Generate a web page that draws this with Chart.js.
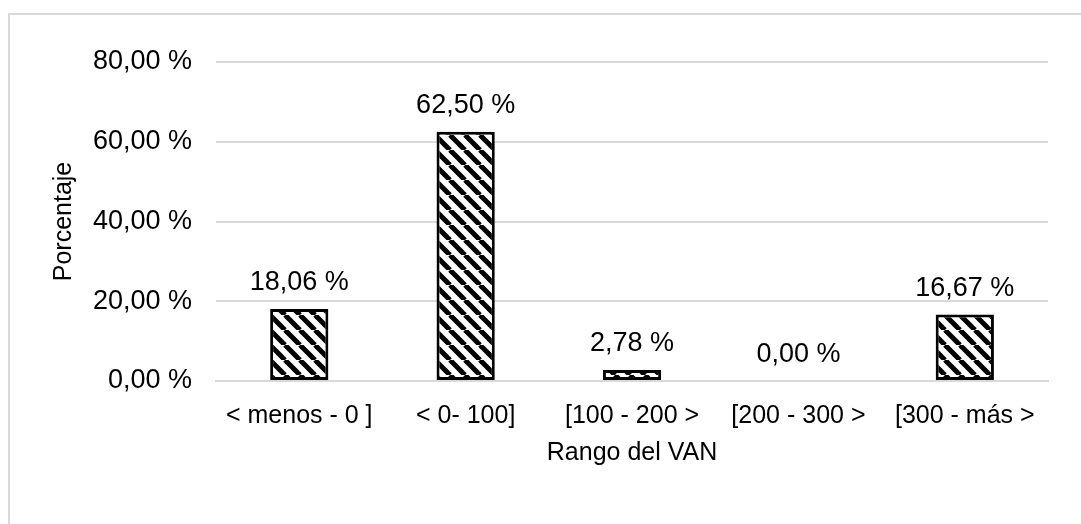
<!DOCTYPE html>
<html>
<head>
<meta charset="UTF-8">
<title>Rango del VAN</title>
<script src="https://cdn.jsdelivr.net/npm/chart.js"></script>
<style>
  html, body { margin: 0; padding: 0; background: #fff; }
  #wrap { position: relative; width: 1081px; height: 524px; }
</style>
</head>
<body>
<div id="wrap"><canvas id="grafico"></canvas></div>
<script>
// datos
const rangos = ['< menos - 0 ]', '< 0- 100]', '[100 - 200 >', '[200 - 300 >', '[300 - más >'];
const porcentajes = [18.06, 62.50, 2.78, 0.00, 16.67];
const ticksY = [0, 20, 40, 60, 80];

const fuente = "'Liberation Sans', Arial, sans-serif";

function formato(v) {
  return v.toFixed(2).replace('.', ',') + ' %';
}

// trama de rayas diagonales "\"
function trama() {
  const s = 15;
  const c = document.createElement('canvas');
  c.width = s; c.height = s;
  const g = c.getContext('2d');
  g.fillStyle = '#fff';
  g.fillRect(0, 0, s, s);
  g.strokeStyle = '#000';
  g.lineWidth = 5;
  for (let o = -s; o <= s; o += s) {
    g.beginPath();
    g.moveTo(o, 0);
    g.lineTo(o + s, s);
    g.stroke();
  }
  return g.createPattern(c, 'repeat');
}

// marco gris y etiquetas de valores
const extras = {
  id: 'extras',
  beforeDraw(chart) {
    const ctx = chart.ctx;
    ctx.save();
    ctx.strokeStyle = '#d9d9d9';
    ctx.lineWidth = 2;
    ctx.beginPath();
    ctx.moveTo(9, 524);
    ctx.lineTo(9, 14);
    ctx.lineTo(1081, 14);
    ctx.stroke();
    ctx.restore();
  },
  afterDatasetsDraw(chart) {
    const ctx = chart.ctx;
    const meta = chart.getDatasetMeta(0);
    ctx.save();
    ctx.font = '27px ' + fuente;
    ctx.fillStyle = '#000';
    ctx.textAlign = 'center';
    ctx.textBaseline = 'alphabetic';
    meta.data.forEach((bar, i) => {
      ctx.fillText(formato(porcentajes[i]), bar.x, bar.y - 19);
    });
    ctx.restore();
  }
};

const ctx = document.getElementById('grafico');
new Chart(ctx, {
  type: 'bar',
  data: {
    labels: rangos,
    datasets: [{
      data: porcentajes,
      backgroundColor: trama(),
      borderColor: '#000',
      borderWidth: c => (porcentajes[c.dataIndex] === 0 ? 0 : 3),
      borderSkipped: false,
      barPercentage: 0.35,
      categoryPercentage: 1
    }]
  },
  options: {
    responsive: true,
    maintainAspectRatio: false,
    animation: false,
    layout: { padding: { left: 27, right: 33, top: 62, bottom: 56 } },
    plugins: {
      legend: { display: false },
      tooltip: { enabled: false }
    },
    scales: {
      x: {
        grid: { display: false },
        border: { color: '#d9d9d9', width: 2 },
        ticks: { color: '#000', font: { family: fuente, size: 25 }, padding: 12, maxRotation: 0 },
        title: { display: true, text: 'Rango del VAN', color: '#000', font: { family: fuente, size: 25 }, padding: { top: -5, bottom: 0 } }
      },
      y: {
        min: 0,
        max: 80,
        afterBuildTicks: axis => { axis.ticks = ticksY.map(v => ({ value: v })); },
        grid: { color: '#d9d9d9', lineWidth: 2, drawTicks: false },
        border: { display: false },
        ticks: { color: '#000', font: { family: fuente, size: 27 }, padding: 24, callback: v => formato(v) },
        title: { display: true, text: 'Porcentaje', color: '#000', font: { family: fuente, size: 25 }, padding: { top: 22, bottom: -10 } }
      }
    }
  },
  plugins: [extras]
});
</script>
</body>
</html>
